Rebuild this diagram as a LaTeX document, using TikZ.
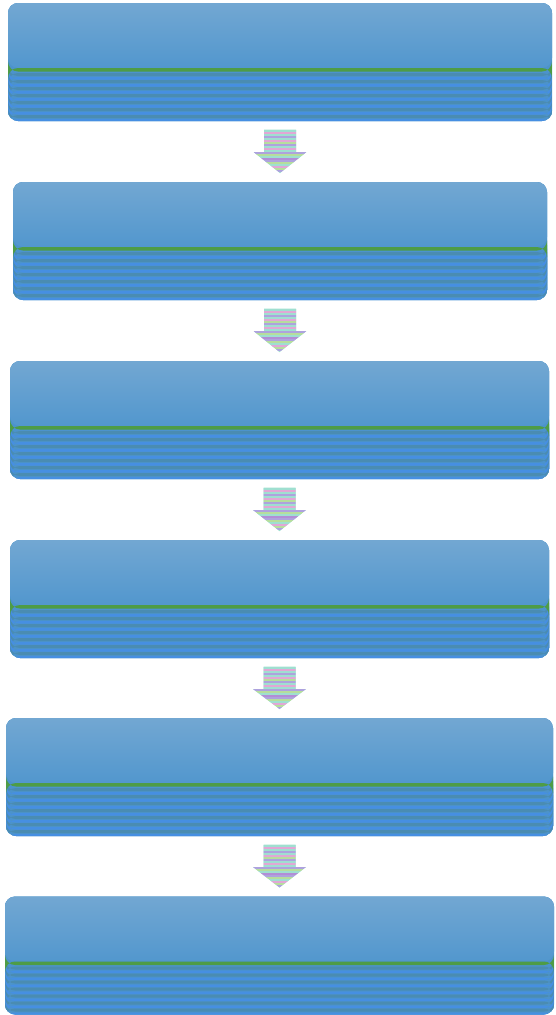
\documentclass[tikz,border=0pt]{standalone}
\usetikzlibrary{calc}
\definecolor{topblue}{HTML}{72A7D2}
\definecolor{midblue}{HTML}{5297CE}
\definecolor{gline}{HTML}{4E9C46}
\definecolor{stripeA}{HTML}{4A8CB2}
\definecolor{stripeB}{HTML}{468FE2}
\definecolor{stripeM}{HTML}{4C93CC}
\definecolor{arPink}{HTML}{E2A6D6}
\definecolor{arTeal}{HTML}{9FDFD0}
\definecolor{arLav}{HTML}{AEA2DE}
\definecolor{arGreen}{HTML}{B6DE9C}
\definecolor{arPurp}{HTML}{B28ED6}
\tikzset{
  flowbox/.style={rounded corners=10pt, inner sep=0pt, outer sep=0pt, fill=midblue,
    minimum height=118pt,
    path picture={
      \path (path picture bounding box.north west) coordinate (pa)
            (path picture bounding box.south east) coordinate (pb);
      \fill[stripeM] (pa) rectangle (pb);
      \shade[top color=topblue, bottom color=midblue] (pa) rectangle ($(pa -| pb)+(0,65)$);
      \foreach \o in {70,77,...,117} {
        \fill[stripeA] ($(pa)+(0,\o)$) rectangle ($(pa -| pb)+(0,\o+3)$);
        \fill[stripeB] ($(pa)+(0,\o+4)$) rectangle ($(pa -| pb)+(0,\o+6.5)$);
      }
      \fill[gline] ($(pa)+(0,65)$) rectangle ($(pa -| pb)+(0,68.5)$);
    }},
  downarrow/.style={fill=arTeal,
    path picture={
      \path (path picture bounding box.north west) coordinate (qa)
            (path picture bounding box.south east) coordinate (qb);
      \foreach \o/\c in {0/arTeal,2/arPink,4/arTeal,6/arLav,8/arTeal,10/arPink,12/arGreen,14/arLav,16/arTeal,18/arPink,20/arTeal,22/arLav,24/arGreen,26/arTeal,28/arPurp,30/arLav,32/arGreen,34/arTeal,36/arPink,38/arGreen,40/arLav,42/arTeal,44/arGreen,46/arLav,48/arTeal,50/arGreen} {
        \fill[\c] ($(qa)+(0,\o)$) rectangle ($(qa -| qb)+(0,\o+2)$);
      }
    }}
}
\begin{document}
\begin{tikzpicture}[x=1pt,y=-1pt]
\useasboundingbox (0,0) rectangle (556,1015);
\node[flowbox, minimum width=544pt] (b1) at (280,62) {};
\node[flowbox, minimum width=534pt] (b2) at (280,241) {};
\node[flowbox, minimum width=539pt] (b3) at (279.5,420) {};
\node[flowbox, minimum width=539pt] (b4) at (279.5,599) {};
\node[flowbox, minimum width=547pt] (b5) at (279.5,777) {};
\node[flowbox, minimum width=549pt] (b6) at (279.5,955.5) {};
\foreach \u/\v in {b1/b2,b2/b3,b3/b4,b4/b5,b5/b6} {
  \path[downarrow]
    ($(\u.south)+(-16,8.5)$)
    -- ($(\u.south)+(16,8.5)$)
    -- ($(\u.south)+(16,31)$)
    -- ($(\u.south)+(26.5,31)$)
    -- ($(\v.north)+(0,-9)$)
    -- ($(\u.south)+(-26.5,31)$)
    -- ($(\u.south)+(-16,31)$)
    -- cycle;
}
\end{tikzpicture}
\end{document}
